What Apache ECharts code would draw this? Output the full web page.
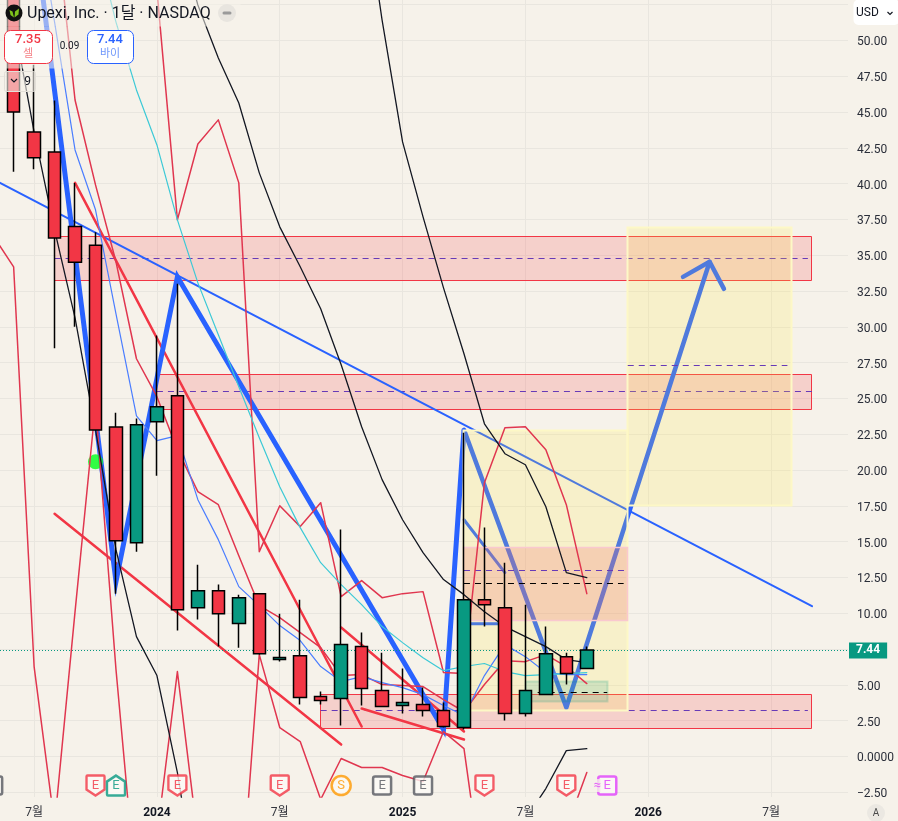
<!DOCTYPE html>
<html>
<head>
<meta charset="utf-8">
<style>html,body{margin:0;padding:0;background:#f6f2ea;overflow:hidden}#c{width:898px;height:821px}</style>
<script src="https://cdn.jsdelivr.net/npm/echarts@6/dist/echarts.min.js"></script>
</head>
<body>
<div id="c"></div>
<script>
// ---- axes: x is months counted from 2023-07 ----
const xTicks = [0, 6, 12, 18, 24, 30, 36];
const xTickLabels = ['7월', '2024', '7월', '2025', '7월', '2026', '7월'];
const yTicks = [-2.5, 0, 2.5, 5, 7.5, 10, 12.5, 15, 17.5, 20, 22.5, 25, 27.5, 30, 32.5, 35, 37.5, 40, 42.5, 45, 47.5, 50, 52.5];
const hiddenYLabels = [7.5, 52.5];
const lastPrice = 7.44;

// ---- monthly candles, first bar = 2023-06 (month -1) ----
const firstMonth = -1;
const opens  = [63.3,43.6,42.2,37.0,35.7,23.0,14.93,23.37,25.19,10.39,11.58,9.28,11.37,6.77,7.04,4.18,4.04,7.67,4.6,3.56,3.63,3.21,2.02,10.95,10.39,3.0,4.32,6.97,6.14];
const closes = [45.0,41.8,36.2,34.5,22.8,15.07,23.16,24.42,10.25,11.58,9.97,11.09,7.18,6.91,4.11,3.9,7.81,4.74,3.49,3.77,3.21,2.09,10.95,10.6,3.0,4.6,7.18,5.79,7.44];
const lows   = [40.82,41.0,28.5,30.0,22.8,11.37,14.3,19.6,8.79,9.56,7.67,7.6,7.11,6.63,3.63,3.63,2.16,3.56,3.49,3.0,2.79,2.02,1.88,9.07,2.51,2.79,4.32,5.02,6.14];
const highs  = [64.7,48.3,45.8,40.05,36.6,24.0,23.6,29.4,33.0,13.39,12.0,11.3,11.37,9.97,10.95,4.53,15.84,8.65,7.25,6.14,4.81,3.77,22.6,15.98,13.53,10.6,9.07,7.25,7.67];

// ---- indicator lines: [first month, values...] ----
const crimsonLowStart = -2;
const crimsonLow = [36.35,34.19,6.28,-4.75,10.11,24.56,6.07,-9.63,-5.59,5.93,-5.8,-13.47,-11.94,7.11,2.02,1.04,-3.0,-0.14,-0.77,-0.77,-1.33,-1.75,1.74,0.55,-9.7,-9.98,-9.98,-8.59,-5.03,-1.12];
const crimsonMidStart = 1;
const crimsonMid = [59.1,45.84,39.91,34.54,27.77,25.12,21.42,18.49,17.58,14.02,10.53,9.69,8.65,7.6,5.65,5.72,5.02,4.95,4.88,3.97,3.14,5.02,6.69,6.62,7.11,6.28,5.09];
const crimsonHighStart = 6;
const crimsonHigh = [53.52,37.47,42.77,44.45,40.05,14.3,17.51,16.05,17.72,11.16,12.28,11.09,11.37,11.51,5.86,5.79,19.12,22.95,23.02,21.42,17.58,11.37];
const thinBlueStart = 0;
const thinBlue = [59.8,51.28,42.35,38.17,30.91,23.79,22.05,22.4,17.93,15.14,11.86,10.53,9.14,8.09,6.28,5.23,5.58,5.16,4.81,4.32,3.56,2.86,5.65,7.81,6.97,5.86,5.72,5.72];
const blackLowStart = -1;
const blackLow = [51.35,43.61,36.77,30.63,22.81,14.44,8.37,5.65,-1.12,-9.98,null,null,null,null,null,null,null,null,null,null,null,null,null,null,null,-4.4,-2.24,0.41,0.55];
const blackHighStart = 16;
const blackHigh = [61.19,51.42,42.91,37.68,32.72,28.12,23.23,21.14,20.37,17.44,12.84,12.49];
const blackMidStart = 7;
const blackMid = [57.7,52.47,48.77,45.63,40.75,36.98,34.19,31.26,27.35,23.02,19.33,16.53,14.23,12.35,11.3,10.11,9.07,8.37,7.67,6.76,6.56];
const cyanStart = 3;
const cyan = [57.0,51.28,46.54,42.7,37.47,33.07,29.44,25.81,22.26,18.84,15.98,13.53,12.0,10.6,9.07,7.95,6.9,5.99,6.28,6.49,5.93,5.65,5.72,5.79,5.86];

// ---- drawings: [month, price] pairs ----
const trendBlue = [[-2,40.3],[38,10.49]];
const redTrendA = [[2,40.05],[16,2.09]];
const redTrendB = [[1,16.95],[15,0.83]];
const redTrendC = [[15,9.0],[21,1.74]];
const redTrendD = [[16,3.35],[21,1.18]];
const zigzag = [[0,57.91],[4,12.21],[7,33.49],[20,1.88],[21,22.81]];
const arrowPath = [[21,22.81],[26,3.42],[33,34.54]];
const arrowHeadPath = [[31.7,33.49],[33,34.54],[33.7,32.65]];
const secondDiagonal = [[21,16.53],[23,12.84]];
const secondFlat = [[21,9.27],[23,9.27]];

// zones: [from month, to month, top price, bottom price]
const redZones = [[1,38,36.35,33.25],[6,38,26.72,24.28],[14,38,4.39,2.02]];
const yellowZones = [[21,29,22.78,3.24],[29,37,37.0,17.55]];
const pinkZones = [[21,29,14.65,9.56]];
const greenZones = [[24,28,5.3,3.9]];
// levels: [from month, to month, price]
const purpleLevelsLow = [[1,37.8,34.82],[6,38,25.54],[14,37.8,3.21]];
const purpleLevelsHigh = [[21,28.9,13.05],[29,36.8,27.35]];
const blackLevels = [[21,28.8,12.14],[24.6,28,4.53]];

// earnings badges
const earnMonths = [-2,3,4,7,12,15,17,19,22,26,28];
const earnKinds  = ['gray','red','teal','red','red','split','gray','gray','red','red','pink'];
const badgePrice = -2.03;
const signalDot = [3, 20.58];

const RED='#f23645', TEAL='#089981', BLUE='#2962ff', BG='#f6f2ea', GRID='#e9e6df', INK='#131722';
const FONT='Roboto, "Noto Sans CJK KR", sans-serif';

const seq = (start, arr) => arr.map((v,i)=>[start+i, v]);
const line = (name, data, color, width, z, extra) => Object.assign({
  name, type:'line', data, z, silent:true, showSymbol:false, symbol:'none', connectNulls:false,
  lineStyle:{color, width, join:'round', cap:'round'}
}, extra||{});

const zoneSeries = (name, zones, z, fill, stroke, sw) => ({
  name, type:'custom', z, silent:true, clip:true, data:zones,
  encode:{x:[0,1], y:[2,3]},
  renderItem:(p, api)=>{
    const a=api.coord([api.value(0),api.value(2)]), b=api.coord([api.value(1),api.value(3)]);
    const x0=Math.floor(a[0])+.5, y0=Math.round(a[1])+.5, x1=Math.floor(b[0])+.5, y1=Math.round(b[1])+.5;
    return {type:'rect', shape:{x:x0,y:y0,width:x1-x0,height:y1-y0}, style:{fill, stroke, lineWidth:sw}};
  }
});
const levelSeries = (name, levels, color, z) => ({
  name, type:'custom', z, silent:true, clip:true, data:levels,
  encode:{x:[0,1], y:2},
  renderItem:(p, api)=>{
    const a=api.coord([api.value(0),api.value(2)]), b=api.coord([api.value(1),api.value(2)]);
    const y=Math.round(a[1])+.5;
    return {type:'line', shape:{x1:a[0],y1:y,x2:b[0],y2:y}, style:{stroke:color, lineWidth:1, lineDash:[6,5], fill:null}};
  }
});

const shieldDown='path://M1 0H17Q18 0 18 1V14L9 20L0 14V1Q0 0 1 0Z';
const shieldUp='path://M9 0L18 6V19Q18 20 17 20H1Q0 20 0 19V6Z';
const squareBadge='path://M2 0H16Q18 0 18 2V16Q18 18 16 18H2Q0 18 0 16V2Q0 0 2 0Z';
const kindStyle={
  red:{c:RED,s:shieldDown,sz:[18,20],t:'E'},
  teal:{c:'#089981',s:shieldUp,sz:[18,20],t:'E'},
  gray:{c:'#55575f',s:squareBadge,sz:[18,18],t:'E'},
  split:{c:'#ff9800',s:'circle',sz:[19,19],t:'S'},
  pink:{c:'#e040fb',s:squareBadge,sz:[18,18],t:'E'}
};
const badges = earnMonths.map((m,i)=>{
  const k=kindStyle[earnKinds[i]];
  return {value:[m,badgePrice], symbol:k.s, symbolSize:k.sz,
    itemStyle:{color:'#fdfaf6',borderColor:k.c,borderWidth:2.5},
    label:{show:true,position:'inside',formatter:k.t,color:k.c,fontSize:13,fontFamily:FONT}};
});
badges.push({value:[28,badgePrice], symbol:'circle', symbolSize:1, itemStyle:{color:'rgba(0,0,0,0)',borderWidth:0},
  label:{show:true,position:'inside',formatter:'≈',offset:[-10,0],color:'#e040fb',fontSize:13,fontFamily:FONT,backgroundColor:BG}});

const candleData = opens.map((o,i)=>[firstMonth+i,o,closes[i],lows[i],highs[i]]);

const series = [
  zoneSeries('red zones', redZones, 1, 'rgba(242,54,69,0.18)', RED, 1),
  levelSeries('purple low', purpleLevelsLow, '#673ab7', 2),
  line('trend', trendBlue, BLUE, 2, 2),
  line('redA', redTrendA, RED, 2.5, 2),
  line('redB', redTrendB, RED, 2.5, 2),
  line('redC', redTrendC, RED, 2.5, 2),
  line('redD', redTrendD, RED, 2.5, 2),
  line('zigzag', zigzag, BLUE, 5, 2, {lineStyle:{color:BLUE,width:5,join:'miter'}}),
  line('arrow', arrowPath, BLUE, 4.5, 2),
  line('arrow head', arrowHeadPath, BLUE, 4.5, 2),
  line('second diag', secondDiagonal, BLUE, 3, 2),
  line('second flat', secondFlat, BLUE, 3, 2),
  zoneSeries('yellow', yellowZones, 3, 'rgba(255,235,59,0.18)', '#fdf8c6', 2),
  zoneSeries('pink', pinkZones, 3, 'rgba(240,110,110,0.25)', '#f9c8cf', 1.5),
  zoneSeries('green', greenZones, 3, 'rgba(8,153,129,0.15)', 'rgba(8,153,129,0.18)', 2),
  levelSeries('purple high', purpleLevelsHigh, '#673ab7', 4),
  levelSeries('black', blackLevels, '#000', 4),
  {name:'signal', type:'scatter', z:4, silent:true, data:[signalDot], symbolSize:15, itemStyle:{color:'#00ff19'}},
  line('crimsonLow', seq(crimsonLowStart, crimsonLow), '#e0364f', 1.5, 5),
  line('crimsonMid', seq(crimsonMidStart, crimsonMid), '#e0364f', 1.5, 5),
  line('crimsonHigh', seq(crimsonHighStart, crimsonHigh), '#e0364f', 1.5, 5),
  line('thinBlue', seq(thinBlueStart, thinBlue), '#4a7dff', 1.2, 5),
  line('cyan', seq(cyanStart, cyan), '#3cc9d6', 1.2, 5),
  line('blackLow', seq(blackLowStart, blackLow), INK, 1.3, 5),
  line('blackHigh', seq(blackHighStart, blackHigh), INK, 1.3, 5),
  line('blackMid', seq(blackMidStart, blackMid), INK, 1.3, 5, {
    markLine:{silent:true,symbol:'none',precision:2,animation:false,
     lineStyle:{color:TEAL,type:[1,2],width:1},
     label:{show:true,position:'end',distance:1,formatter:String(lastPrice),backgroundColor:TEAL,color:'#fff',
       fontFamily:FONT,fontSize:12,fontWeight:'bold',padding:[2,7,2,7],offset:[0,0.5]},
     data:[{yAxis:lastPrice}]}}),
  {name:'price', type:'candlestick', z:6, silent:true, data:candleData, barWidth:13,
   encode:{x:0,y:[1,2,3,4]},
   itemStyle:{color:TEAL,color0:RED,borderColor:'#000',borderColor0:'#000',borderWidth:1.5}},
  {name:'events', type:'scatter', z:7, silent:true, clip:false, data:badges}
];

const txt=(text,x,y,fs,fill,extra)=>({type:'text',silent:true,z:100,style:Object.assign({text,x,y,fontSize:fs,fill,fontFamily:FONT,textAlign:'center',textVerticalAlign:'middle'},extra||{})});
const box=(x,y,w,h,r,fill,stroke,lw,z)=>({type:'rect',silent:true,z:z||99,shape:{x:x+.5,y:y+.5,width:w,height:h,r},style:{fill,stroke,lineWidth:lw||1}});

const graphic=[
  box(0,-1,240,27,0,'rgba(246,242,234,.55)',null,0),
  box(0,26,136,42,0,'rgba(246,242,234,.55)',null,0),
  {type:'circle',silent:true,z:100,shape:{cx:14,cy:13,r:8.5},style:{fill:'#111'}},
  {type:'polygon',silent:true,z:101,shape:{points:[[9.5,10],[12.5,11.5],[14,17.5],[10.5,15]]},style:{fill:'#7fc31c'}},
  {type:'polygon',silent:true,z:101,shape:{points:[[14.5,17.5],[15,11.5],[19,8.5],[18.5,14.5]]},style:{fill:'#7fc31c'}},
  txt('Upexi, Inc. · 1달 · NASDAQ',27,14,16,INK,{textAlign:'left'}),
  {type:'circle',silent:true,z:100,shape:{cx:227,cy:13,r:9},style:{fill:'#e8e5df'}},
  box(222,11,9,3,1.5,'#9a9a9a',null,0,101),
  box(4,30,48,33,6,'#fff',RED,1),
  txt('7.35',28,40,13,RED,{fontWeight:500}),
  txt('셀',28,54,11,'#f57f85'),
  txt('0.09',69.5,46.5,10,INK),
  box(87,30,46,33,6,'#fff',BLUE,1),
  txt('7.44',110,40,13,BLUE,{fontWeight:500}),
  txt('바이',110,54,11,'#6f97fb'),
  box(4,71,31,20,2,'rgba(246,242,234,.6)','#e3dfd8',1),
  {type:'polyline',silent:true,z:100,shape:{points:[[11,79],[14,82],[17,79]]},style:{stroke:INK,lineWidth:1.2,fill:null}},
  txt('9',27.5,81.5,12,INK),
  box(853,-1,46,25.5,5,'#fff',null,0),
  txt('USD',856,13,12,INK,{textAlign:'left'}),
  {type:'polyline',silent:true,z:100,shape:{points:[[887.5,12],[890,14.5],[892.5,12]]},style:{stroke:INK,lineWidth:1.2,fill:null}},
  {type:'circle',silent:true,z:100,shape:{cx:876,cy:813,r:9},style:{fill:'#ebe8e2'}},
  txt('A',876,813.5,10,'#4a4a4a')
];

const chart=echarts.init(document.getElementById('c'),null,{renderer:'canvas',width:898,height:821});
chart.setOption({
  animation:false,
  backgroundColor:BG,
  textStyle:{fontFamily:FONT},
  grid:{left:0,right:50,top:0,bottom:23,containLabel:false},
  xAxis:{type:'value',min:-1.666,max:39.76,
    axisLine:{show:false},
    axisTick:{show:false,customValues:xTicks},
    splitLine:{show:true,lineStyle:{color:GRID,width:1}},
    axisLabel:{margin:8,fontFamily:FONT,fontSize:12,color:'#33353d',lineHeight:16,customValues:xTicks,
      formatter:v=>{const s=xTickLabels[xTicks.indexOf(v)]||''; return /^\d{4}$/.test(s)?'{b|'+s+'}':'{n|'+s+'}';},
      rich:{b:{fontWeight:'bold',fontSize:12,color:INK,fontFamily:FONT,lineHeight:16},n:{fontSize:12,color:'#33353d',fontFamily:FONT,lineHeight:16}}}},
  yAxis:{type:'value',position:'right',min:-2.83,max:52.82,
    axisLine:{show:false},
    axisTick:{show:false,customValues:yTicks},
    splitLine:{show:true,lineStyle:{color:GRID,width:1}},
    axisLabel:{margin:9,fontFamily:FONT,fontSize:12,color:'#2a2e39',customValues:yTicks.filter(v=>!hiddenYLabels.includes(v)),
      formatter:v=>'{a|'+(v===0?'0.0000':(v<0?'−'+Math.abs(v).toFixed(2):v.toFixed(2)))+'}',
      rich:{a:{fontFamily:FONT,fontSize:12,color:'#2a2e39',padding:[4,0,0,0]}}}},
  series,
  graphic
});
</script>
</body>
</html>
